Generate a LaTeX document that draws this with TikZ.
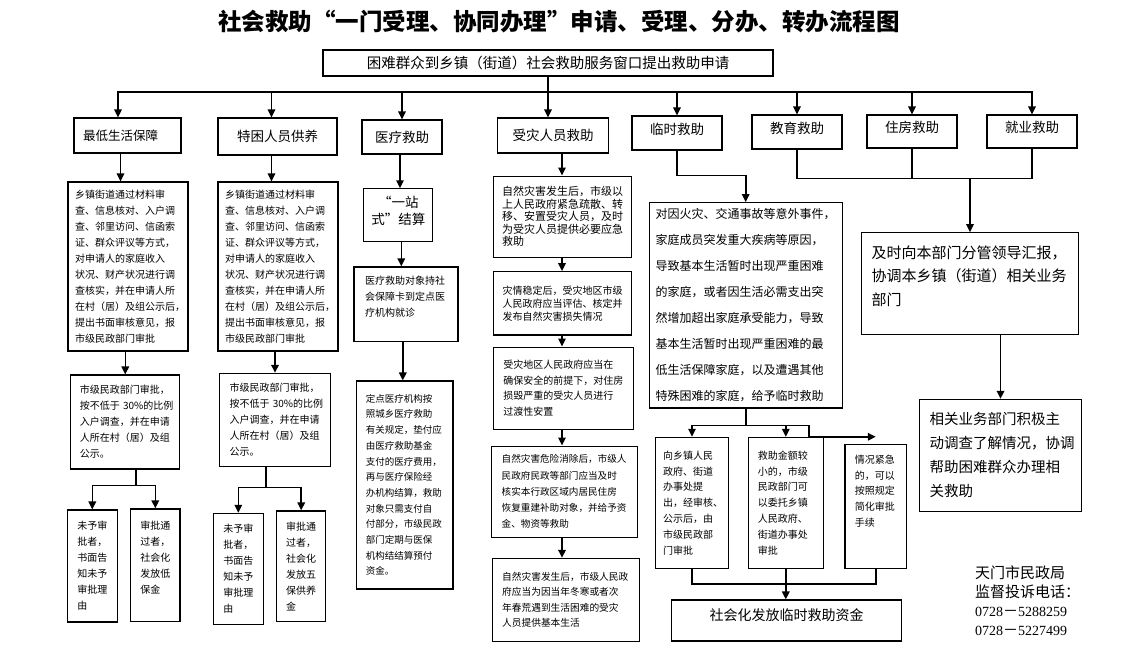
\documentclass[tikz,border=0pt]{standalone}
\usepackage{fontspec}
\setmainfont{Noto Sans CJK SC}
\newfontfamily\numfont{Liberation Serif}
\usepackage{tikz}
\usetikzlibrary{arrows.meta,positioning}
\definecolor{ink}{HTML}{000000}
\newcommand{\fs}[2]{\fontsize{#1}{#2}\selectfont}
\newcommand{\tail}[1]{\\[#1]\mbox{}}
\newcommand{\shenhe}{乡镇街道通过材料审\\查、信息核对、入户调\\查、邻里访问、信函索\\证、群众评议等方式，\\对申请人的家庭收入\\状况、财产状况进行调\\查核实，并在申请人所\\在村（居）及组公示后，\\提出书面审核意见，报\\市级民政部门审批}
\newcommand{\shiji}{市级民政部门审批，\\\mbox{按不低于~30\%的比例}\\入户调查，并在申请\\人所在村（居）及组\\公示。}
\tikzset{
  every node/.style={inner sep=0pt},
  box/.style={draw=ink,line width=1.1pt,inner sep=0pt},
  cat/.style={box,font=\fs{13.5}{16}},
  txt/.style={box,align=left},
  ln/.style={draw=ink,line width=1.6pt},
  ar/.style={ln,-{Triangle[length=8pt,width=7.5pt]}},
}
\begin{document}
\begin{tikzpicture}[x=1pt,y=-1pt]
\useasboundingbox (0,0) rectangle (1122,646);

% title and request
\node[font=\bfseries\fs{23.5}{26}] (title) at (559,22) {社会救助“一门受理、协同办理”申请、受理、分办、转办流程图};
\node[box,minimum width=450pt,minimum height=26pt,font=\fs{14.5}{17}] (req) at (548,63) {困难群众到乡镇（街道）社会救助服务窗口提出救助申请};

% categories
\node[cat,minimum width=107pt,minimum height=35pt,text width=89pt,align=left,font=\fs{12.5}{15}] (c1) at (127.5,135.5) {最低生活保障};
\node[cat,minimum width=119pt,minimum height=37pt] (c2) at (277.5,136.5) {特困人员供养};
\node[cat,minimum width=80pt,minimum height=34pt] (c3) at (402,137) {医疗救助};
\node[cat,minimum width=111pt,minimum height=35pt] (c4) at (553,135.5) {受灾人员救助};
\node[cat,minimum width=90pt,minimum height=34pt,text depth=9pt] (c5) at (677,133) {临时救助};
\node[cat,minimum width=90pt,minimum height=34pt,text depth=9pt] (c6) at (797,132) {教育救助};
\node[cat,minimum width=90pt,minimum height=33pt,text depth=9pt] (c7) at (912,131.5) {住房救助};
\node[cat,minimum width=90pt,minimum height=33pt,text depth=9pt] (c8) at (1032,131.5) {就业救助};

% minimum living / support for the destitute
\node[txt,minimum width=120pt,minimum height=169pt,text width=106pt,font=\fs{10}{16}] (d1) at (128,266.5) {\shenhe};
\node[txt,minimum width=120pt,minimum height=169pt,text width=106pt,font=\fs{10}{16}] (d2) at (278,266.5) {\shenhe};
\node[txt,minimum width=109pt,minimum height=94pt,text width=91pt,font=\fs{10}{16}] (e1) at (125.3,422) {\shiji};
\node[txt,minimum width=111.4pt,minimum height=92.7pt,text width=91pt,font=\fs{10}{16}] (e2) at (275,419.7) {\shiji};
\node[txt,minimum width=50pt,minimum height=112pt,text width=30pt,font=\fs{10}{16}] (f1) at (92.3,566) {未予审\\批者，\\书面告\\知未予\\审批理\\由};
\node[txt,minimum width=49.3pt,minimum height=112.7pt,text width=30pt,font=\fs{10}{16}] (g1) at (155.3,565.3) {审批通\\过者，\\社会化\\发放低\\保金\tail{0pt}};
\node[txt,minimum width=50pt,minimum height=111pt,text width=30pt,font=\fs{10}{16}] (f2) at (238.3,568.8) {未予审\\批者，\\书面告\\知未予\\审批理\\由};
\node[txt,minimum width=49pt,minimum height=110.7pt,text width=30pt,font=\fs{10}{16}] (g2) at (301.2,566.3) {审批通\\过者，\\社会化\\发放五\\保供养\\金};

% medical aid
\node[box,minimum width=69pt,minimum height=53pt,align=center,font=\fs{13.5}{17}] (m1) at (398.3,215.3) {“一站\\式”结算\tail{-7pt}};
\node[txt,minimum width=104pt,minimum height=74.7pt,text width=82pt,font=\fs{10}{15.7}] (m2) at (406,304.3) {医疗救助对象持社\\会保障卡到定点医\\疗机构就诊\tail{0pt}};
\node[txt,minimum width=96.3pt,minimum height=208pt,text width=78pt,font=\fs{9.5}{15.7}] (m3) at (404.8,485) {定点医疗机构按\\照城乡医疗救助\\有关规定，垫付应\\由医疗救助基金\\支付的医疗费用，\\再与医疗保险经\\办机构结算，救助\\对象只需支付自\\付部分，市级民政\\部门定期与医保\\机构结结算预付\\资金。};

% disaster victims
\node[txt,minimum width=138.4pt,minimum height=81.3pt,text width=121pt,font=\fs{11}{12.5}] (s1) at (562.5,216.7) {自然灾害发生后，市级以\\上人民政府紧急疏散、转\\移、安置受灾人员，及时\\为受灾人员提供必要应急\\救助};
\node[txt,minimum width=138.4pt,minimum height=63.3pt,text width=120pt,font=\fs{10}{13}] (s2) at (562.5,303.3) {灾情稳定后，受灾地区市级\\人民政府应当评估、核定并\\发布自然灾害损失情况};
\node[txt,minimum width=140pt,minimum height=82.3pt,text width=120pt,font=\fs{10}{15.5}] (s3) at (563.3,388.2) {受灾地区人民政府应当在\\确保安全的前提下，对住房\\损毁严重的受灾人员进行\\过渡性安置};
\node[txt,minimum width=146pt,minimum height=91.3pt,text width=126pt,font=\fs{9.6}{16.2}] (s4) at (564.7,491.7) {自然灾害危险消除后，市级人\\民政府民政等部门应当及时\\核实本行政区域内居民住房\\恢复重建补助对象，并给予资\\金、物资等救助};
\node[txt,minimum width=146.7pt,minimum height=82.7pt,text width=127pt,font=\fs{9.7}{15.6}] (s5) at (565.7,599.7) {自然灾害发生后，市级人民政\\府应当为因当年冬寒或者次\\年春荒遇到生活困难的受灾\\人员提供基本生活};

% temporary aid
\node[txt,minimum width=193.3pt,minimum height=205.3pt,text width=180pt,font=\fs{12}{26}] (t1) at (745.7,305.3) {对因火灾、交通事故等意外事件，\\家庭成员突发重大疾病等原因，\\导致基本生活暂时出现严重困难\\的家庭，或者因生活必需支出突\\然增加超出家庭承受能力，导致\\基本生活暂时出现严重困难的最\\低生活保障家庭，以及遭遇其他\\特殊困难的家庭，给予临时救助};
\node[txt,minimum width=72.6pt,minimum height=131pt,text width=58pt,font=\fs{10}{15.8}] (ta) at (692,502.8) {向乡镇人民\\政府、街道\\办事处提\\出，经审核、\\公示后，由\\市级民政部\\门审批};
\node[txt,minimum width=75pt,minimum height=131pt,text width=56pt,font=\fs{10}{15.8}] (tb) at (785.8,502.8) {救助金额较\\小的，市级\\民政部门可\\以委托乡镇\\人民政府、\\街道办事处\\审批};
\node[txt,minimum width=61.7pt,minimum height=124.3pt,text width=42pt,font=\fs{10}{15.7}] (tc) at (875.8,506.2) {情况紧急\\的，可以\\按照规定\\简化审批\\手续\tail{0pt}\tail{0pt}};
\node[box,minimum width=230pt,minimum height=41pt,text depth=12pt,font=\fs{14}{17}] (tf) at (786.7,620.5) {社会化发放临时救助资金};

% education / housing / employment
\node[txt,minimum width=216.6pt,minimum height=101.6pt,text width=197pt,font=\fs{15}{23.5}] (j1) at (970,283.5) {及时向本部门分管领导汇报，\\协调本乡镇（街道）相关业务\\部门\tail{-7.5pt}};
\node[txt,minimum width=162.4pt,minimum height=111.7pt,text width=142pt,font=\fs{14.5}{24}] (j2) at (1000.5,455.2) {相关业务部门积极主\\动调查了解情况，协调\\帮助困难群众办理相\\关救助};

% contact
\node[anchor=north west,align=left,font=\fs{15}{19}] (tel) at (975,566) {天门市民政局\\监督投诉电话：\\{\numfont\fs{14}{19}0728}－{\numfont\fs{14}{19}5288259}\\{\numfont\fs{14}{19}0728}－{\numfont\fs{14}{19}5227499}};

% request to categories
\coordinate (bus) at (548,92);
\draw[ln] (req.south) -- (bus);
\draw[ar] (bus) -| ([xshift=-9.5pt]c1.north);
\draw[ar] (bus) -| (c8.north);
\draw[ar] ([xshift=-6pt]c2.north |- bus) -- ([xshift=-6pt]c2.north);
\draw[ar] (c3.north |- bus) -- (c3.north);
\draw[ar] (bus) -- (bus |- c4.north);
\foreach \c in {c5,c6,c7}
  \draw[ar] (\c.north |- bus) -- (\c.north);

% minimum living / destitute
\draw[ar] ([xshift=-7pt]c1.south) -- ([xshift=-7pt]c1.south |- d1.north);
\draw[ar] (e1.north |- d1.south) -- (e1.north);
\draw[ln] ([xshift=10.7pt]e1.south) -- ++(0,16) coordinate (e1s);
\draw[ar] (e1s) -| (f1.north);
\draw[ar] (e1s) -| (g1.north);
\draw[ar] ([xshift=-6pt]c2.south) -- ([xshift=-6pt]c2.south |- d2.north);
\draw[ar] (e2.north |- d2.south) -- (e2.north);
\draw[ln] ([xshift=-9.3pt]e2.south) -- ++(0,21) coordinate (e2s);
\draw[ar] (e2s) -| (f2.north);
\draw[ar] (e2s) -| (g2.north);

% medical
\draw[ar] ([xshift=-2pt]c3.south) -- ([xshift=-2pt]c3.south |- m1.north);
\draw[ar] ([xshift=3pt]m1.south) -- ([xshift=3pt]m1.south |- m2.north);
\draw[ar] ([xshift=-2pt]m3.north |- m2.south) -- ([xshift=-2pt]m3.north);

% disaster
\coordinate (colS) at (562,0);
\foreach \a/\b in {c4/s1,s1/s2,s2/s3,s3/s4,s4/s5}
  \draw[ar] (colS |- \a.south) -- (colS |- \b.north);

% temporary
\draw[ar] (c5.south) -- ++(0,25) -| (t1.north);
\draw[ln] (t1.south) -- ++(0,17) coordinate (t1s);
\draw[ar] (t1s) -| (ta.north);
\draw[ar] (tb.north |- t1s) -- (tb.north);
\draw[ar] (t1s) -| ([xshift=-15pt]tb.north east) -- (tc.north |- tb.north);
\draw[ln] (ta.south) -- ++(0,15) -| (tc.south);
\draw[ar] (tb.south) -- (tb.south |- tf.north);

% education / housing / employment
\draw[ln] (c6.south) -- ++(0,29) coordinate (hj) -| (c8.south);
\draw[ln] (c7.south) -- (c7.south |- hj);
\draw[ar] (j1.north |- hj) -- (j1.north);
\draw[ar] (j2.north |- j1.south) -- (j2.north);
\end{tikzpicture}
\end{document}
